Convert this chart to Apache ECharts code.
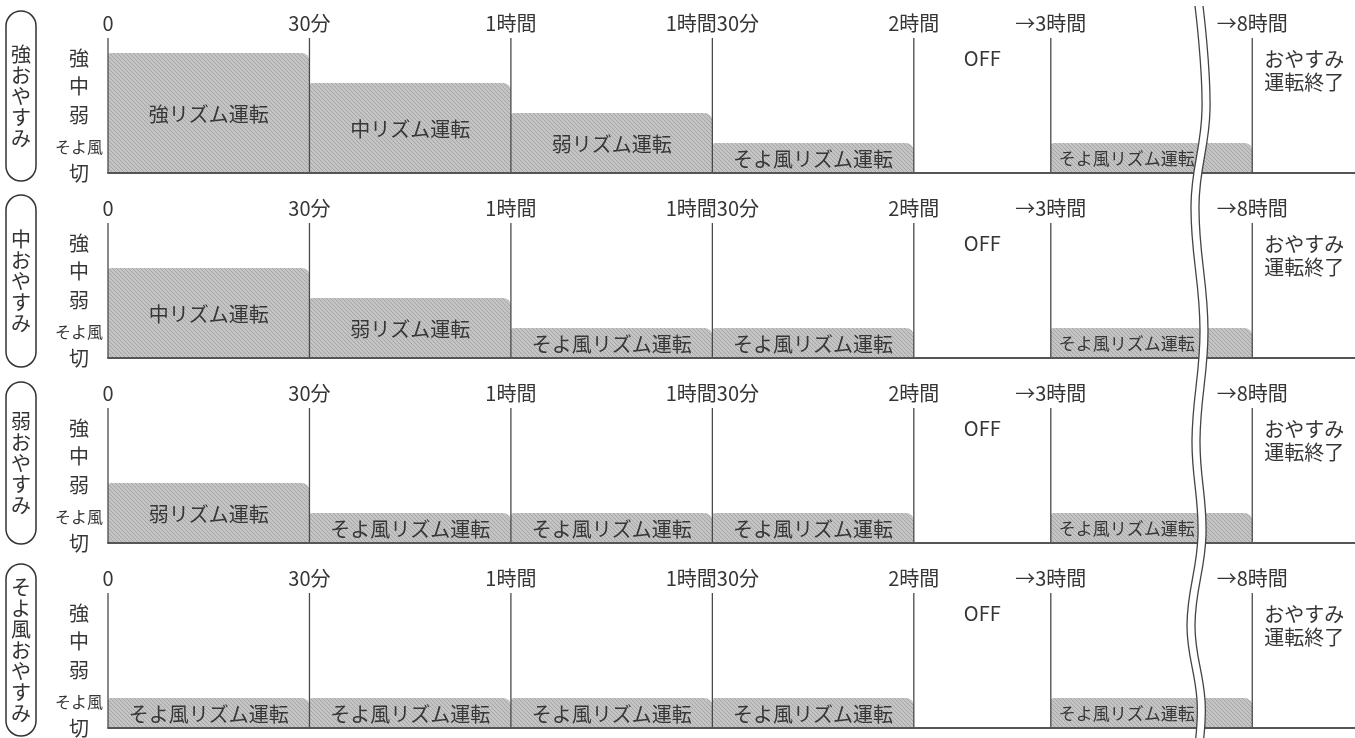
<!DOCTYPE html>
<html>
<head>
<meta charset="utf-8">
<script src="https://cdn.jsdelivr.net/npm/echarts@6/dist/echarts.min.js"></script>
<style>
html, body { margin: 0; padding: 0; background: #fff; }
#main { width: 1355px; height: 738px; }
</style>
</head>
<body>
<div id="main"></div>
<script>
// おやすみモード（パネルごと）
var modeNames = ['強おやすみ', '中おやすみ', '弱おやすみ', 'そよ風おやすみ'];
// 時間軸（区間の開始位置。2時間以降は省略表示）
var tickPos = [0, 1, 2, 3, 4, 4.68, 5.68];
var tickLabels = ['0', '30分', '1時間', '1時間30分', '2時間', '→3時間', '→8時間'];
var segEnd = [1, 2, 3, 4, 4.68, 5.68, 6.19];
// 風量 0=切 1=そよ風 2=弱 3=中 4=強
var levelNames = ['切', 'そよ風', '弱', '中', '強'];
var runNames = ['', 'そよ風リズム運転', '弱リズム運転', '中リズム運転', '強リズム運転'];
var offNotes = ['', '', '', '', 'OFF', '', 'おやすみ\n運転終了'];
var levelsStrong = [4, 3, 2, 1, 0, 1, 0];
var levelsMid    = [3, 2, 1, 1, 0, 1, 0];
var levelsWeak   = [2, 1, 1, 1, 0, 1, 0];
var levelsBreeze = [1, 1, 1, 1, 0, 1, 0];
var panelLevels = [levelsStrong, levelsMid, levelsWeak, levelsBreeze];

var X_MAX = 6.19, Y_MAX = 4.5, LABEL_MAX = 4.7;
var FONT = '"Noto Sans CJK JP", "Noto Sans", sans-serif';
var TXT = '#363636';

// 斜線ハッチの塗り
var hatch = (function () {
	var c = document.createElement('canvas');
	c.width = 4; c.height = 4;
	var g = c.getContext('2d');
	g.fillStyle = '#c4c4c4';
	g.fillRect(0, 0, 4, 4);
	g.fillStyle = '#a6a6a6';
	for (var i = 0; i < 4; i++) { g.fillRect(i, i, 1, 1); }
	return c;
})();

function renderBlock(params, api) {
	var x0 = api.value(0), x1 = api.value(1), lv = api.value(2), i = api.value(3);
	var top = api.coord([x0, Y_MAX])[1];
	var pa = api.coord([x0, lv]), pb = api.coord([x1, 0]);
	var children = [];
	if (lv > 0) {
		children.push({
			type: 'rect',
			shape: { x: pa[0], y: pa[1], width: pb[0] - pa[0], height: pb[1] - pa[1], r: [3, 8, 0, 0] },
			style: { fill: { image: hatch, repeat: 'repeat' } }
		});
		var afterBreak = i === 5;
		children.push({
			type: 'text',
			style: {
				text: runNames[lv],
				x: afterBreak ? pa[0] + 8 : (pa[0] + pb[0]) / 2,
				y: (pa[1] + pb[1]) / 2 + 1,
				align: afterBreak ? 'left' : 'center', textAlign: afterBreak ? 'left' : 'center',
				verticalAlign: 'middle', textVerticalAlign: 'middle',
				fontSize: afterBreak ? 17 : 20, fontFamily: FONT, fill: TXT
			}
		});
	} else if (offNotes[i]) {
		var last = i === 6;
		children.push({
			type: 'text',
			style: {
				text: offNotes[i],
				x: last ? pa[0] + 12 : (pa[0] + pb[0]) / 2,
				y: last ? top + 10 : top + 20,
				align: last ? 'left' : 'center', textAlign: last ? 'left' : 'center',
				verticalAlign: last ? 'top' : 'middle', textVerticalAlign: last ? 'top' : 'middle',
				fontSize: 20, lineHeight: 23, fontFamily: FONT, fill: TXT
			}
		});
	}
	return { type: 'group', children: children };
}

function renderLine(params, api) {
	var x = api.value(0);
	var a = api.coord([x, 0]), b = api.coord([x, Y_MAX]);
	return {
		type: 'line',
		shape: { x1: a[0], y1: a[1], x2: b[0], y2: b[1] },
		style: { stroke: '#4a4a4a', lineWidth: 1.3 }
	};
}

var grids = [], xAxes = [], yAxes = [], series = [], graphics = [];
var boxCenter = [96, 281, 463, 650], boxHeight = [170, 172, 162, 172];

panelLevels.forEach(function (levels, p) {
	grids.push({ left: 108, right: 0, top: 38 + 185 * p, height: 135 });
	// 下の基線
	xAxes.push({
		gridIndex: p, type: 'value', min: 0, max: X_MAX, position: 'bottom', z: 5,
		axisLine: { show: true, lineStyle: { color: '#555', width: 2 } },
		axisTick: { show: false }, axisLabel: { show: false }, splitLine: { show: false }
	});
	// 上の時刻ラベル
	xAxes.push({
		gridIndex: p, type: 'value', min: 0, max: X_MAX, position: 'top',
		axisLine: { show: false }, axisTick: { show: false }, splitLine: { show: false },
		axisLabel: {
			customValues: tickPos, margin: 5, fontSize: 20, color: TXT, fontFamily: FONT,
			formatter: function (v) {
				var k = tickPos.indexOf(v);
				return k < 0 ? '' : tickLabels[k];
			}
		}
	});
	yAxes.push({
		gridIndex: p, type: 'value', min: 0, max: Y_MAX,
		axisLine: { show: false }, axisTick: { show: false }, axisLabel: { show: false }, splitLine: { show: false }
	});
	yAxes.push({
		gridIndex: p, type: 'value', min: 0, max: LABEL_MAX, interval: 1, position: 'left',
		axisLine: { show: false }, axisTick: { show: false }, splitLine: { show: false },
		axisLabel: {
			margin: 29, align: 'center', color: TXT, fontFamily: FONT,
			formatter: function (v) {
				if (v !== Math.round(v) || v > 4) return '';
				return v === 1 ? '{s|' + levelNames[v] + '}' : '{n|' + levelNames[v] + '}';
			},
			rich: {
				n: { fontSize: 20, fontFamily: FONT, color: TXT },
				s: { fontSize: 16, fontFamily: FONT, color: TXT, padding: [6, 0, 0, 0] }
			}
		}
	});

	var blocks = levels.map(function (lv, i) { return [tickPos[i], segEnd[i], lv, i]; });
	series.push({
		type: 'custom', xAxisIndex: 2 * p, yAxisIndex: 2 * p, z: 2,
		renderItem: renderBlock, encode: { x: [0, 1], y: 2 }, data: blocks, silent: true
	});
	series.push({
		type: 'custom', xAxisIndex: 2 * p, yAxisIndex: 2 * p, z: 4,
		renderItem: renderLine, encode: { x: 0 },
		data: tickPos.map(function (t) { return [t]; }), silent: true
	});

	// 左のモード名（縦書き）
	graphics.push({
		type: 'rect', z: 100,
		shape: { x: 6, y: boxCenter[p] - boxHeight[p] / 2, width: 30, height: boxHeight[p], r: 15 },
		style: { fill: '#fff', stroke: '#333', lineWidth: 1.5 }
	});
	graphics.push({
		type: 'text', z: 101,
		style: {
			text: modeNames[p].split('').join('\n'), x: 21, y: boxCenter[p],
			align: 'center', textAlign: 'center', verticalAlign: 'middle', textVerticalAlign: 'middle',
			fontSize: 20, lineHeight: 21, fontFamily: FONT, fill: '#333'
		}
	});
});

// 省略記号（波線）: 中心線の通過点
var wave = [[1199, 6], [1206, 110], [1195, 205], [1204, 330], [1196, 440], [1202, 535], [1191, 625], [1201, 700], [1199, 745]];
[{ dx: 0, color: '#fff', w: 8 }, { dx: -4, color: '#444', w: 1.3 }, { dx: 4, color: '#444', w: 1.3 }].forEach(function (s) {
	graphics.push({
		type: 'polyline', z: 102,
		shape: { points: wave.map(function (pt) { return [pt[0] + s.dx, pt[1]]; }), smooth: 0.4 },
		style: { stroke: s.color, lineWidth: s.w, fill: null }
	});
});

var myChart = echarts.init(document.getElementById('main'));
myChart.setOption({
	backgroundColor: '#fff',
	animation: false,
	grid: grids,
	xAxis: xAxes,
	yAxis: yAxes,
	series: series,
	graphic: graphics
});
</script>
</body>
</html>
